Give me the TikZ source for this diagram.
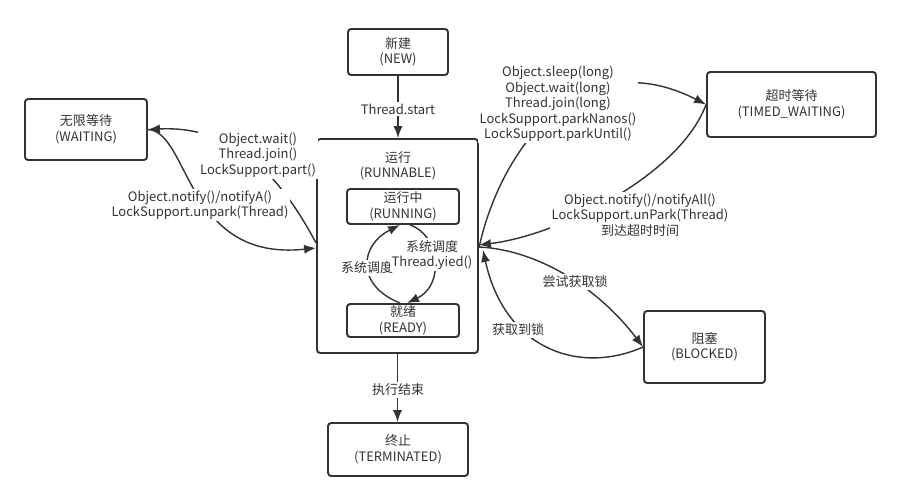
\documentclass[tikz,border=0pt]{standalone}
\usepackage{fontspec}
\setmainfont{Noto Sans CJK SC}
\usetikzlibrary{arrows.meta,calc}
\definecolor{ink}{HTML}{333333}
\tikzset{
  state/.style={draw=ink, line width=1.1pt, rounded corners=1.8pt, align=center, text=ink, inner sep=0pt},
  edge/.style={draw=ink, line width=0.8pt, -{Latex[length=6.8pt,width=5.2pt]}},
  lbl/.style={fill=white, align=center, text=ink, inner sep=1pt},
}
\begin{document}
\begin{tikzpicture}[x=0.02cm, y=-0.02cm, font=\fontsize{7.4}{8.8}\selectfont]
    \useasboundingbox (0,0) rectangle (902,502);

    % states
    \node[state, minimum width=2cm, minimum height=0.92cm] (new) at (398,52) {新建\\(NEW)};
    \node[state, minimum width=2.44cm, minimum height=1.22cm] (waiting) at (86,129.5) {无限等待\\(WAITING)};
    \node[state, minimum width=3.22cm, minimum height=4.28cm] (runnable) at (397.5,246) {};
    \node[align=center, text=ink] (runnabletxt) at (398,166) {运行\\(RUNNABLE)};
    \node[state, minimum width=2.24cm, minimum height=0.7cm] (running) at (403,206.5) {运行中\\(RUNNING)};
    \node[state, minimum width=2.24cm, minimum height=0.66cm] (ready) at (403,320.5) {就绪\\(READY)};
    \node[state, minimum width=3.38cm, minimum height=1.3cm] (timed) at (791.5,104.5) {超时等待\\(TIMED\_WAITING)};
    \node[state, minimum width=2.42cm, minimum height=1.44cm] (blocked) at (704.5,347) {阻塞\\(BLOCKED)};
    \node[state, minimum width=2.8cm, minimum height=1.06cm] (terminated) at (398,449.5) {终止\\(TERMINATED)};

    % edges
    \draw[edge] (new.south) -- (new.south |- runnable.north); % NEW -> RUNNABLE
    \draw[edge] (runnable.south) -- (runnable.south |- terminated.north); % RUNNABLE -> TERMINATED
    \draw[edge] ($(runnable.west)+(0,-3)$) .. controls (285,185) and (240,125) .. (waiting.east); % RUNNABLE -> WAITING
    \draw[edge] (waiting.east) .. controls (190,132) and (185,262) .. ($(runnable.west)+(0,2)$); % WAITING -> RUNNABLE
    \draw[edge] ($(ready.north)+(-3,0)$) .. controls (355,285) and (360,245) .. ($(running.south)+(-3,0)$); % READY -> RUNNING
    \draw[edge] ($(running.south)+(7,0)$) .. controls (440,235) and (445,285) .. ($(ready.north)+(4,0)$); % RUNNING -> READY
    \draw[edge] ($(runnable.east)+(0,2)$) .. controls (500,150) and (580,40) .. (timed.west); % RUNNABLE -> TIMED_WAITING
    \draw[edge] (timed.west) .. controls (680,175) and (560,235) .. ($(runnable.east)+(0,-1)$); % TIMED_WAITING -> RUNNABLE
    \draw[edge] ($(runnable.east)+(0,1)$) .. controls (540,250) and (600,290) .. (blocked.west); % RUNNABLE -> BLOCKED
    \draw[edge] (blocked.west) .. controls (580,375) and (505,350) .. ($(runnable.east)+(4,4)$); % BLOCKED -> RUNNABLE

    % edge labels
    \node[lbl] (startlbl) at (398,109) {Thread.start};
    \node[lbl] (endlbl) at (398,390) {执行结束};
    \node[lbl] (waitlbl) at (258,155) {Object.wait()\\Thread.join()\\LockSupport.part()};
    \node[lbl] (unparklbl) at (200,205) {Object.notify()/notifyA()\\LockSupport.unpark(Thread)};
    \node[lbl] (schedlbl) at (367,268) {系统调度};
    \node[lbl] (yieldlbl) at (432,255) {系统调度\\Thread.yied()};
    \node[lbl] (sleeplbl) at (558,104) {Object.sleep(long)\\Object.wait(long)\\Thread.join(long)\\LockSupport.parkNanos()\\LockSupport.parkUntil()};
    \node[lbl] (timeoutlbl) at (640,215) {Object.notify()/notifyAll()\\LockSupport.unPark(Thread)\\到达超时时间};
    \node[lbl] (trylbl) at (575,282) {尝试获取锁};
    \node[lbl] (gotlbl) at (518,330) {获取到锁};

\end{tikzpicture}
\end{document}
